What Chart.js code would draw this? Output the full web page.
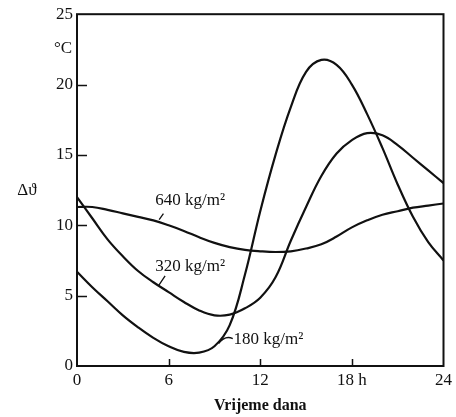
<!DOCTYPE html>
<html><head><meta charset="utf-8">
<script src="https://cdn.jsdelivr.net/npm/chart.js@4.4.1/dist/chart.umd.min.js"></script>
<style>html,body{margin:0;padding:0;background:#fff}canvas{display:block}</style>
</head><body>
<canvas id="c" width="456" height="417"></canvas>
<script>
const hours = [0,1,2,3,4,5,6,7,8,9,10,11,12,13,14,15,16,17,18,19,20,21,22,23,24];
const series180 = [6.7,5.6,4.6,3.6,2.75,2.0,1.4,1.0,0.95,1.4,2.9,6.5,11.0,15.0,18.4,20.9,21.75,21.4,20.0,17.9,15.5,12.9,10.6,8.8,7.5];
const series320 = [12.0,10.5,9.0,7.8,6.75,5.95,5.25,4.55,3.95,3.6,3.65,4.1,4.85,6.3,8.9,11.3,13.5,15.1,16.05,16.55,16.4,15.7,14.8,13.9,13.0];
const series640 = [11.3,11.3,11.1,10.85,10.6,10.35,10.0,9.6,9.15,8.75,8.45,8.25,8.15,8.1,8.15,8.35,8.65,9.2,9.85,10.35,10.75,11.0,11.25,11.4,11.55];
const seriesNames = ['180 kg/m²','320 kg/m²','640 kg/m²'];
const xTicks = [0,6,12,18,24];
const xTickLabels = ['0','6','12','18 h','24'];
const yTicks = [0,5,10,15,20,25];
const xAxisTitle = 'Vrijeme dana';
const yUnit = '°C';
const ySymbol = 'Δϑ';

const FONT = "'Liberation Serif', 'DejaVu Serif', serif";
const toPts = arr => hours.map((h,i)=>({x:h, y:arr[i]}));

const decor = {
  id:'decor',
  beforeDraw(chart){
    const c = chart.ctx; c.save(); c.fillStyle='#fff'; c.fillRect(0,0,chart.width,chart.height); c.restore();
  },
  afterDatasetsDraw(chart){
    const c = chart.ctx, a = chart.chartArea, x = chart.scales.x, y = chart.scales.y;
    c.save();
    c.strokeStyle='#111'; c.lineWidth=2;
    c.strokeRect(a.left, a.top, a.right-a.left, a.bottom-a.top);
    c.lineWidth=1.5;
    c.beginPath();
    xTicks.slice(1,-1).forEach(v=>{const px=Math.round(x.getPixelForValue(v))+0.5; c.moveTo(px,a.bottom); c.lineTo(px,a.bottom-7);});
    yTicks.slice(1,-1).forEach(v=>{const py=Math.round(y.getPixelForValue(v))+0.5; c.moveTo(a.left,py); c.lineTo(a.left+10,py);});
    c.stroke();
    // curve labels
    c.fillStyle='#111'; c.font='17px '+FONT; c.textBaseline='middle';
    const P=(vx,vy)=>[x.getPixelForValue(vx), y.getPixelForValue(vy)];
    let p;
    c.textAlign='center';
    p=P(7.41,11.76); c.fillText(seriesNames[2], p[0], p[1]);
    p=P(7.41,7.08); c.fillText(seriesNames[1], p[0], p[1]);
    c.textAlign='left';
    p=P(10.25,1.9); c.fillText(seriesNames[0], p[0], p[1]);
    c.lineWidth=1.3;
    c.beginPath();
    let s=P(5.38,10.4), e=P(5.66,10.82); c.moveTo(s[0],s[1]); c.lineTo(e[0],e[1]);
    s=P(5.33,5.70); e=P(5.77,6.41); c.moveTo(s[0],s[1]); c.lineTo(e[0],e[1]);
    s=P(9.27,1.6); const k=P(9.7,2.2); e=P(10.2,1.95); c.moveTo(s[0],s[1]); c.quadraticCurveTo(k[0],k[1],e[0],e[1]);
    c.stroke();
    // axis symbol and unit
    c.textAlign='center';
    c.fillText(yUnit, 63, 49);
    c.fillText(ySymbol, 27, 191);
    c.restore();
  }
};

new Chart(document.getElementById('c'), {
  type:'line',
  data:{ datasets:[
    {label:seriesNames[0], data:toPts(series180)},
    {label:seriesNames[1], data:toPts(series320)},
    {label:seriesNames[2], data:toPts(series640)}
  ].map(d=>Object.assign(d,{borderColor:'#111', borderWidth:2.2, pointRadius:0, fill:false, tension:0.4}))},
  options:{
    responsive:false, devicePixelRatio:1, animation:false,
    layout:{padding:{top:11,right:12,left:0,bottom:0}},
    plugins:{legend:{display:false}, tooltip:{enabled:false}},
    scales:{
      x:{type:'linear', min:0, max:24,
        afterBuildTicks:s=>{s.ticks = xTicks.map(v=>({value:v}));},
        afterFit:s=>{s.height=51;},
        ticks:{autoSkip:false, maxRotation:0, padding:4, color:'#111', font:{family:FONT, size:17},
          callback:(v,i)=>xTickLabels[i]},
        grid:{drawOnChartArea:false, drawTicks:false},
        border:{display:false},
        title:{display:true, text:xAxisTitle, color:'#111', font:{family:FONT, size:16, weight:'bold'}, padding:{top:0,bottom:2}}
      },
      y:{min:0, max:25,
        afterBuildTicks:s=>{s.ticks = yTicks.map(v=>({value:v}));},
        afterFit:s=>{s.width=77;},
        ticks:{padding:4, color:'#111', font:{family:FONT, size:17}},
        grid:{drawOnChartArea:false, drawTicks:false},
        border:{display:false}
      }
    }
  },
  plugins:[decor]
});
</script>
</body></html>
